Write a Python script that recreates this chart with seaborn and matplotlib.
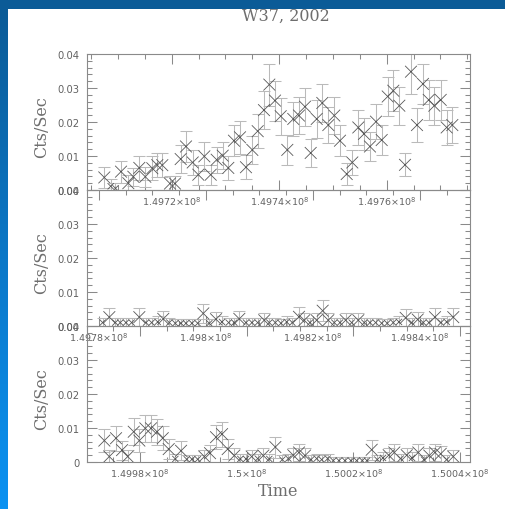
import numpy as np
import pandas as pd
import matplotlib
matplotlib.use("Agg")
import matplotlib.pyplot as plt
import seaborn as sns
from matplotlib.ticker import FixedLocator, FixedFormatter, MultipleLocator
from matplotlib.colors import LinearSegmentedColormap
from matplotlib.patches import Rectangle

# ---------------------------------------------------------------- data
# Light curve of W37, 2002: three observation segments (time in s, rate in cts/s)
time_seg1 = [149707460, 149708650, 149709540, 149710570, 149711930, 149712860, 149713970,
             149715090, 149716390, 149717320, 149718250, 149719680, 149720610, 149721670,
             149722660, 149723910, 149724950, 149726070, 149727260, 149728370, 149729490,
             149730530, 149731590, 149732710, 149733820, 149735000, 149736000, 149737170,
             149738160, 149739220, 149740280, 149741510, 149742620, 149743680, 149744800,
             149745860, 149746980, 149748020, 149749140, 149750250, 149751310, 149752560,
             149753600, 149754720, 149755780, 149756890, 149758010, 149759070, 149760190,
             149761230, 149762350, 149763410, 149764520, 149765640, 149766750, 149767820,
             149768860, 149770050, 149771160, 149772210]
rate_seg1 = [0.0037, 0.0011, 0.0005, 0.0054, 0.0020, 0.0039, 0.0065, 0.0039, 0.0064, 0.0073,
             0.0073, 0.0019, 0.0019, 0.0091, 0.0128, 0.0081, 0.0045, 0.0099, 0.0045, 0.0089,
             0.0101, 0.0065, 0.0145, 0.0155, 0.0067, 0.0118, 0.0173, 0.0235, 0.0310, 0.0263,
             0.0217, 0.0118, 0.0209, 0.0219, 0.0245, 0.0109, 0.0209, 0.0256, 0.0191, 0.0219,
             0.0145, 0.0047, 0.0081, 0.0184, 0.0165, 0.0128, 0.0201, 0.0147, 0.0275, 0.0292,
             0.0248, 0.0074, 0.0348, 0.0191, 0.0312, 0.0265, 0.0248, 0.0265, 0.0184, 0.0191]
err_seg1 = [0.0030, 0.0020, 0.0015, 0.0032, 0.0025, 0.0027, 0.0036, 0.0030, 0.0035, 0.0036,
            0.0036, 0.0022, 0.0022, 0.0040, 0.0045, 0.0038, 0.0030, 0.0042, 0.0030, 0.0038,
            0.0040, 0.0035, 0.0046, 0.0049, 0.0035, 0.0042, 0.0050, 0.0056, 0.0062, 0.0059,
            0.0055, 0.0043, 0.0050, 0.0054, 0.0056, 0.0042, 0.0055, 0.0057, 0.0052, 0.0054,
            0.0045, 0.0031, 0.0038, 0.0051, 0.0047, 0.0044, 0.0052, 0.0045, 0.0057, 0.0060,
            0.0056, 0.0034, 0.0065, 0.0051, 0.0060, 0.0059, 0.0056, 0.0059, 0.0051, 0.0052]

time_seg2 = [149780690, 149781930, 149783050, 149783980, 149785050, 149786110, 149787540,
             149788790, 149789850, 149790980, 149792020, 149793150, 149794270, 149795330,
             149796270, 149797390, 149798460, 149799500, 149800630, 149801880, 149803000,
             149804250, 149805300, 149806240, 149807490, 149808610, 149809680, 149810910,
             149811850, 149812970, 149814030, 149815100, 149816150, 149817400, 149818390,
             149819460, 149820710, 149821830, 149822880, 149824000, 149825070, 149826130,
             149827260, 149828490, 149829610, 149830680, 149831740, 149832870, 149833910,
             149835030, 149836100, 149837350, 149838480, 149839600, 149840640, 149841710,
             149842830, 149843950, 149845020, 149846250]
rate_seg2 = [0.0010, 0.0026, 0.0010, 0.0010, 0.0010, 0.0010, 0.0026, 0.0010, 0.0010, 0.0012,
             0.0021, 0.0010, 0.0008, 0.0008, 0.0008, 0.0008, 0.0008, 0.0037, 0.0008, 0.0020,
             0.0012, 0.0010, 0.0010, 0.0021, 0.0010, 0.0010, 0.0010, 0.0017, 0.0010, 0.0010,
             0.0008, 0.0012, 0.0010, 0.0027, 0.0017, 0.0010, 0.0017, 0.0045, 0.0017, 0.0010,
             0.0010, 0.0017, 0.0010, 0.0017, 0.0010, 0.0010, 0.0010, 0.0008, 0.0008, 0.0010,
             0.0012, 0.0024, 0.0010, 0.0019, 0.0010, 0.0010, 0.0026, 0.0010, 0.0012, 0.0026]
err_seg2 = [0.0015, 0.0027, 0.0015, 0.0015, 0.0015, 0.0015, 0.0027, 0.0015, 0.0015, 0.0016,
            0.0022, 0.0015, 0.0013, 0.0013, 0.0013, 0.0013, 0.0013, 0.0028, 0.0013, 0.0022,
            0.0016, 0.0015, 0.0015, 0.0022, 0.0015, 0.0015, 0.0015, 0.0020, 0.0015, 0.0015,
            0.0013, 0.0016, 0.0015, 0.0028, 0.0020, 0.0015, 0.0020, 0.0031, 0.0020, 0.0015,
            0.0015, 0.0020, 0.0015, 0.0020, 0.0015, 0.0015, 0.0015, 0.0013, 0.0013, 0.0015,
            0.0016, 0.0027, 0.0015, 0.0021, 0.0015, 0.0015, 0.0027, 0.0015, 0.0016, 0.0027]

time_seg3 = [149973310, 149974240, 149975500, 149976630, 149977690, 149978820, 149979870,
             149980990, 149982060, 149983190, 149984260, 149985380, 149986620, 149987690,
             149988760, 149989750, 149990820, 149992060, 149993130, 149994250, 149995380,
             149996440, 149997680, 149998810, 149999880, 150000940, 150002070, 150003120,
             150004240, 150005370, 150006680, 150007810, 150008740, 150009810, 150010940,
             150012060, 150013130, 150014070, 150015190, 150016240, 150017310, 150018440,
             150019560, 150020630, 150021680, 150022560, 150023440, 150024490, 150025560,
             150026630, 150027680, 150028880, 150030010, 150031000, 150032180, 150033250,
             150034240, 150035310, 150036380, 150037510, 150038740]
rate_seg3 = [0.0063, 0.0016, 0.0070, 0.0035, 0.0016, 0.0089, 0.0063, 0.0099, 0.0099, 0.0089,
             0.0070, 0.0038, 0.0009, 0.0033, 0.0008, 0.0008, 0.0008, 0.0016, 0.0026, 0.0073,
             0.0082, 0.0038, 0.0019, 0.0009, 0.0009, 0.0016, 0.0010, 0.0019, 0.0009, 0.0044,
             0.0007, 0.0010, 0.0020, 0.0028, 0.0019, 0.0007, 0.0010, 0.0007, 0.0010, 0.0004,
             0.0004, 0.0004, 0.0004, 0.0004, 0.0004, 0.0004, 0.0036, 0.0007, 0.0012, 0.0020,
             0.0028, 0.0010, 0.0020, 0.0012, 0.0028, 0.0007, 0.0019, 0.0028, 0.0024, 0.0007,
             0.0016]
err_seg3 = [0.0034, 0.0020, 0.0037, 0.0028, 0.0020, 0.0039, 0.0035, 0.0039, 0.0039, 0.0038,
            0.0036, 0.0029, 0.0015, 0.0028, 0.0014, 0.0014, 0.0014, 0.0020, 0.0025, 0.0036,
            0.0037, 0.0029, 0.0021, 0.0015, 0.0015, 0.0020, 0.0015, 0.0021, 0.0015, 0.0031,
            0.0013, 0.0015, 0.0022, 0.0025, 0.0021, 0.0013, 0.0015, 0.0013, 0.0015, 0.0010,
            0.0010, 0.0010, 0.0010, 0.0010, 0.0010, 0.0010, 0.0029, 0.0013, 0.0016, 0.0022,
            0.0025, 0.0015, 0.0022, 0.0016, 0.0025, 0.0013, 0.0021, 0.0025, 0.0024, 0.0013,
            0.0020]

# x ranges and labelled ticks of each segment
xlim_seg1 = (149704185, 149775500)
xlim_seg2 = (149777700, 149849380)
xlim_seg3 = (149970000, 150041875)
xticks_seg1 = [149720000, 149740000, 149760000]
xticks_seg2 = [149780000, 149800000, 149820000, 149840000]
xticks_seg3 = [149980000, 150000000, 150020000, 150040000]

yticks = [0.0, 0.01, 0.02, 0.03, 0.04]
ylabels_full = ["0.00", "0.01", "0.02", "0.03", "0.04"]
ylabels_last = ["0", "0.01", "0.02", "0.03", "0.04"]

title = "W37, 2002"
ylabel = "Cts/Sec"
xlabel = "Time"

# ---------------------------------------------------------------- style
sns.set_theme(style="ticks")
plt.rcParams["font.family"] = ["DejaVu Sans"]
plt.rcParams["mathtext.default"] = "regular"

W, H = 506, 510
fig = plt.figure(figsize=(W / 100, H / 100), dpi=100)
fig.patch.set_facecolor("white")

# blue frame: top band and a shaded strip on the left
fig.patches.append(Rectangle((0, 1 - 10 / H), 1, 10 / H, transform=fig.transFigure,
                             facecolor="#0b5b97", edgecolor="none", zorder=0))
strip = fig.add_axes([0, 0, 8 / W, 1 - 10 / H])
grad = np.linspace(0, 1, 256).reshape(-1, 1)
cmap = LinearSegmentedColormap.from_list("edge", ["#0b5b97", "#0a78c8", "#0b92f2"])
strip.imshow(grad, aspect="auto", cmap=cmap, extent=(0, 1, 0, 1), origin="upper")
strip.axis("off")

AX_L, AX_R = 86.7, 470.0
panel_px = [(55, 191), (191, 327), (327, 463)]

frame_col = "#8a8a8a"
text_col = "#626262"
serif = ["DejaVu Serif"]


def fmt_time(v):
    return f"{v / 1e8:g}×10$^8$"


segments = [
    (time_seg1, rate_seg1, err_seg1, xlim_seg1, xticks_seg1, ylabels_full),
    (time_seg2, rate_seg2, err_seg2, xlim_seg2, xticks_seg2, ylabels_full),
    (time_seg3, rate_seg3, err_seg3, xlim_seg3, xticks_seg3, ylabels_last),
]

for (top, bot), (t, r, e, xl, xt, yl) in zip(panel_px, segments):
    ax = fig.add_axes([AX_L / W, 1 - bot / H, (AX_R - AX_L) / W, (bot - top) / H])
    ax.patch.set_visible(False)
    df = pd.DataFrame({"time": t, "rate": r, "err": e})
    df["mark"] = np.where(df["rate"] < 0.0014, "small", "large")

    ax.errorbar(df["time"], df["rate"], yerr=df["err"], fmt="none",
                ecolor="#bababa", elinewidth=0.75, capsize=4.3, capthick=0.75, zorder=2)
    sns.scatterplot(data=df, x="time", y="rate", size="mark",
                    sizes={"large": 72, "small": 20}, marker="x", color="#575757",
                    linewidth=0.6, legend=False, ax=ax, zorder=3)

    ax.set_xlim(*xl)
    ax.set_ylim(0, 0.04)
    ax.xaxis.set_major_locator(FixedLocator(xt))
    ax.xaxis.set_major_formatter(FixedFormatter([fmt_time(v) for v in xt]))
    ax.xaxis.set_minor_locator(MultipleLocator(5000))
    ax.yaxis.set_major_locator(FixedLocator(yticks))
    ax.yaxis.set_major_formatter(FixedFormatter(yl))
    ax.yaxis.set_minor_locator(MultipleLocator(0.002))

    ax.tick_params(which="both", direction="in", top=True, right=True,
                   color=frame_col, labelcolor=text_col, width=0.75)
    ax.tick_params(which="major", length=7)
    ax.tick_params(which="minor", length=3.5)
    ax.tick_params(axis="x", labelsize=6.8, pad=3.5)
    ax.tick_params(axis="y", labelsize=7.2, pad=5)
    for sp in ax.spines.values():
        sp.set_color(frame_col)
        sp.set_linewidth(0.8)

    ax.set_xlabel("")
    ax.set_ylabel(ylabel, family=serif, fontsize=11.5, color="#6e6e6e")
    ax.yaxis.set_label_coords(-0.095, 0.47)

fig.text(285.5 / W, 1 - 16 / H, title, ha="center", va="center",
         family=serif, fontsize=11.5, color="#6e6e6e")
fig.text(278 / W, 1 - 492 / H, xlabel, ha="center", va="center",
         family=serif, fontsize=11.5, color="#6e6e6e")

fig.savefig("out.png", dpi=100, facecolor=fig.get_facecolor())
